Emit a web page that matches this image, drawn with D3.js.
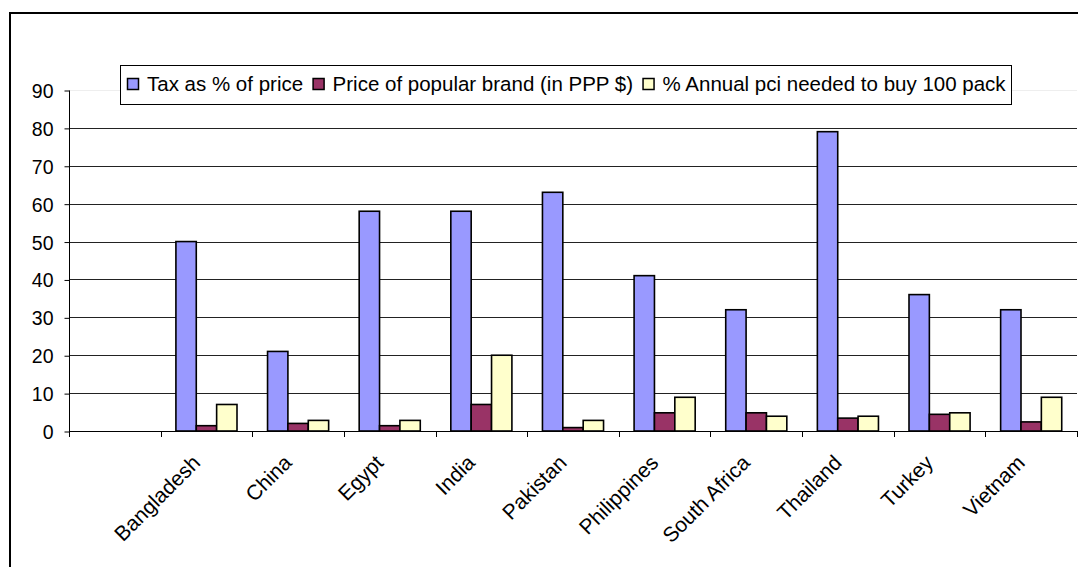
<!DOCTYPE html>
<html>
<head>
<meta charset="utf-8">
<script src="https://cdn.jsdelivr.net/npm/d3@7"></script>
<style>
  html, body { margin: 0; padding: 0; background: #fff; }
  svg { display: block; font-family: Arial, "Liberation Sans", sans-serif; }
</style>
</head>
<body>
<svg id="chart" width="1078" height="567"></svg>
<script>
// ---- Data ----
const categories = ["", "Bangladesh", "China", "Egypt", "India", "Pakistan", "Philippines", "South Africa", "Thailand", "Turkey", "Vietnam"];
const seriesNames = ["Tax as % of price", "Price of popular brand (in PPP $)", "% Annual pci needed to buy 100 pack"];
const taxPct   = [null, 50, 21, 58, 58, 63, 41, 32, 79, 36, 32];
const pricePPP = [null, 1.4, 2, 1.4, 7, 0.9, 4.8, 4.8, 3.4, 4.4, 2.4];
const pciPct   = [null, 7, 2.8, 2.8, 20, 2.8, 8.9, 3.9, 3.9, 4.8, 8.9];
const yTicks   = [0, 10, 20, 30, 40, 50, 60, 70, 80, 90];
const colors   = ["#9999FF", "#993366", "#FFFFCC"];

const seriesValues = [taxPct, pricePPP, pciPct];

const svg = d3.select("#chart");

// outer frame (cut off at right/bottom like the reference)
svg.append("rect")
  .attr("x", 10).attr("y", 13)
  .attr("width", 1200).attr("height", 700)
  .attr("fill", "none").attr("stroke", "#000").attr("stroke-width", 2);

const pL = 69, pR = 1077, pT = 90, pB = 431;

const x = d3.scaleBand().domain(categories).range([pL, pR]).paddingInner(0).paddingOuter(0);
const y = d3.scaleLinear().domain([0, 90]).range([pB, pT]);

// sub-band: gap width 150%
const step = x.bandwidth();
const barW = step / 4.5;
const xs = d3.scaleBand().domain([0, 1, 2]).range([0.75 * barW, 3.75 * barW]).padding(0);

// gridlines
const grid = svg.append("g");
grid.selectAll("line").data(yTicks.filter(d => d > 0)).join("line")
  .attr("x1", pL).attr("x2", pR)
  .attr("y1", d => Math.round(y(d)) + 0.5).attr("y2", d => Math.round(y(d)) + 0.5)
  .attr("stroke", d => d === 90 ? "#eeeeee" : "#222")
  .attr("stroke-width", 1);

// bars
const groups = svg.append("g").selectAll("g").data(categories).join("g")
  .attr("transform", c => `translate(${x(c)},0)`);

groups.each(function (c, i) {
  const g = d3.select(this);
  seriesValues.forEach((vals, s) => {
    const v = vals[i];
    if (v == null) return;
    g.append("rect")
      .attr("x", xs(s))
      .attr("y", y(v))
      .attr("width", xs.bandwidth())
      .attr("height", y(0) - y(v))
      .attr("fill", colors[s])
      .attr("stroke", "#000")
      .attr("stroke-width", 1.6);
  });
});

// y axis
const yAxis = d3.axisLeft(y).tickValues(yTicks).tickSize(5).tickPadding(11).tickFormat(d3.format("d"));
const yg = svg.append("g").attr("transform", `translate(${pL + 0.5},0.5)`).call(yAxis);
yg.select(".domain").attr("d", `M0,${pT}V${pB}`).attr("stroke", "#000");
yg.selectAll(".tick line").attr("stroke", "#000");
yg.selectAll(".tick text").attr("font-size", 19.5).attr("fill", "#000")
  .attr("font-family", "Arial, 'Liberation Sans', sans-serif").attr("dy", "0.36em");

// x axis line + ticks at category boundaries
const xg = svg.append("g");
xg.append("line").attr("x1", pL).attr("x2", pR)
  .attr("y1", pB + 0.5).attr("y2", pB + 0.5).attr("stroke", "#000");
const boundaries = categories.map(c => x(c)).concat([pR]);
xg.selectAll("line.tk").data(boundaries).join("line").attr("class", "tk")
  .attr("x1", d => Math.round(d) + 0.5).attr("x2", d => Math.round(d) + 0.5)
  .attr("y1", pB).attr("y2", pB + 6).attr("stroke", "#000");

// x labels rotated
xg.selectAll("text").data(categories.filter(c => c !== "")).join("text")
  .attr("transform", c => `translate(${x(c) + step / 2 - 5},464) rotate(-45)`)
  .attr("text-anchor", "end")
  .attr("font-size", 21)
  .attr("fill", "#000")
  .text(c => c);

// legend
const leg = svg.append("g");
leg.append("rect").attr("x", 120.5).attr("y", 65.5).attr("width", 891).attr("height", 39)
  .attr("fill", "#fff").attr("stroke", "#000").attr("stroke-width", 1);
let lx = 127;
seriesNames.forEach((name, i) => {
  leg.append("rect").attr("x", lx + 0.5).attr("y", 78.5).attr("width", 11).attr("height", 11)
    .attr("fill", colors[i]).attr("stroke", "#000").attr("stroke-width", 1.5);
  const t = leg.append("text").attr("x", lx + 20).attr("y", 91)
    .attr("font-size", 20.5).attr("fill", "#000").text(name);
  lx = lx + 20 + t.node().getComputedTextLength() + 9.5;
});
</script>
</body>
</html>
